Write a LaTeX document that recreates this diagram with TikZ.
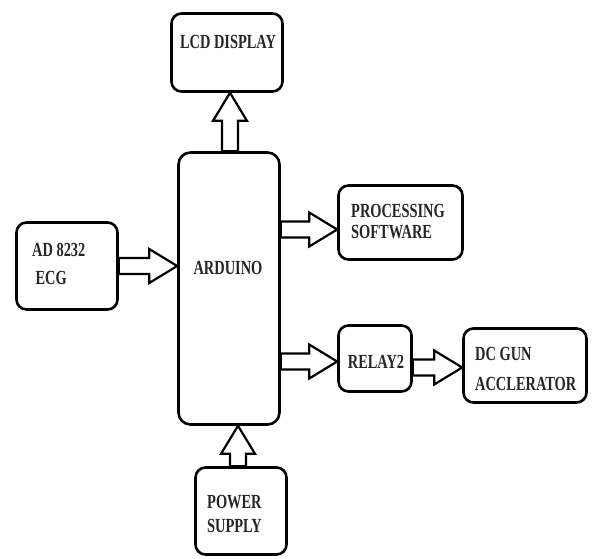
\documentclass[tikz,border=0pt]{standalone}
\usepackage{fontspec}
\setmainfont{Liberation Serif}[FakeStretch=0.72]
\usetikzlibrary{calc}

% hollow block arrows: horizontal (y of target) and vertical (x of source)
\newcommand{\harrow}[2]{%
  \draw[blkarrow] let \p1=(#1), \p2=(#2) in
    (\x1,\y2+8pt) -- (\x2-28pt,\y2+8pt) -- (\x2-28pt,\y2+17pt) -- (\x2,\y2)
    -- (\x2-28pt,\y2-17pt) -- (\x2-28pt,\y2-8pt) -- (\x1,\y2-8pt) -- cycle;}
\newcommand{\varrow}[2]{%
  \draw[blkarrow] let \p1=(#1), \p2=(#2) in
    (\x1-8pt,\y1) -- (\x1-8pt,\y2-28pt) -- (\x1-17pt,\y2-28pt) -- (\x1,\y2)
    -- (\x1+17pt,\y2-28pt) -- (\x1+8pt,\y2-28pt) -- (\x1+8pt,\y1) -- cycle;}

\begin{document}
\begin{tikzpicture}[
  x=1pt, y=-1pt,
  blk/.style={draw, line width=2.6pt, rounded corners=10pt, inner sep=0pt},
  lbl/.style={font=\fontsize{20}{21}\selectfont\bfseries, align=left, inner sep=0pt, text=black!85},
  blkarrow/.style={draw, fill=white, line width=2.2pt, line join=miter},
]
\useasboundingbox (0,0) rectangle (592,558);
% ---- blocks ----
\node[blk, minimum width=111pt, minimum height=78pt] (lcd) at (227,52.5) {};
\node[blk, minimum width=101pt, minimum height=272pt, rounded corners=12pt] (ard) at (229,288.5) {};
\node[blk, minimum width=101pt, minimum height=87pt] (ecg) at (67,266) {};
\node[blk, minimum width=124pt, minimum height=74pt] (proc) at (400.5,222.5) {};
\node[blk, minimum width=73pt, minimum height=66pt] (relay) at (375,358.5) {};
\node[blk, minimum width=123pt, minimum height=74pt] (dc) at (525,365.5) {};
\node[blk, minimum width=91pt, minimum height=87pt] (pow) at (241,511) {};
% ---- labels ----
\node[lbl] (lcdlbl) at (228,42) {LCD DISPLAY};
\node[lbl] (ardlbl) at (228,268) {ARDUINO};
\node[lbl, anchor=west] (ecglbl) at (32,264) {AD 8232\\[7pt]\,ECG};
\node[lbl, anchor=west] (proclbl) at (351,222) {PROCESSING\\[0pt]SOFTWARE};
\node[lbl] (relaylbl) at (376,362) {RELAY2};
\node[lbl, anchor=west] (dclbl) at (475,369) {DC GUN\\[9pt]ACCLERATOR};
\node[lbl, anchor=west] (powlbl) at (207,514) {POWER\\[3pt]SUPPLY};
% ---- arrows ----
\harrow{ecg.east}{ard.west |- ecg.east}
\harrow{ard.east}{[yshift=-7pt]proc.west}
\harrow{ard.east}{[yshift=-3pt]relay.west}
\harrow{relay.east}{[yshift=-2pt]dc.west}
\varrow{[xshift=1pt]ard.north}{lcd.south}
\varrow{[xshift=-3pt]pow.north}{ard.south}
\end{tikzpicture}
\end{document}
